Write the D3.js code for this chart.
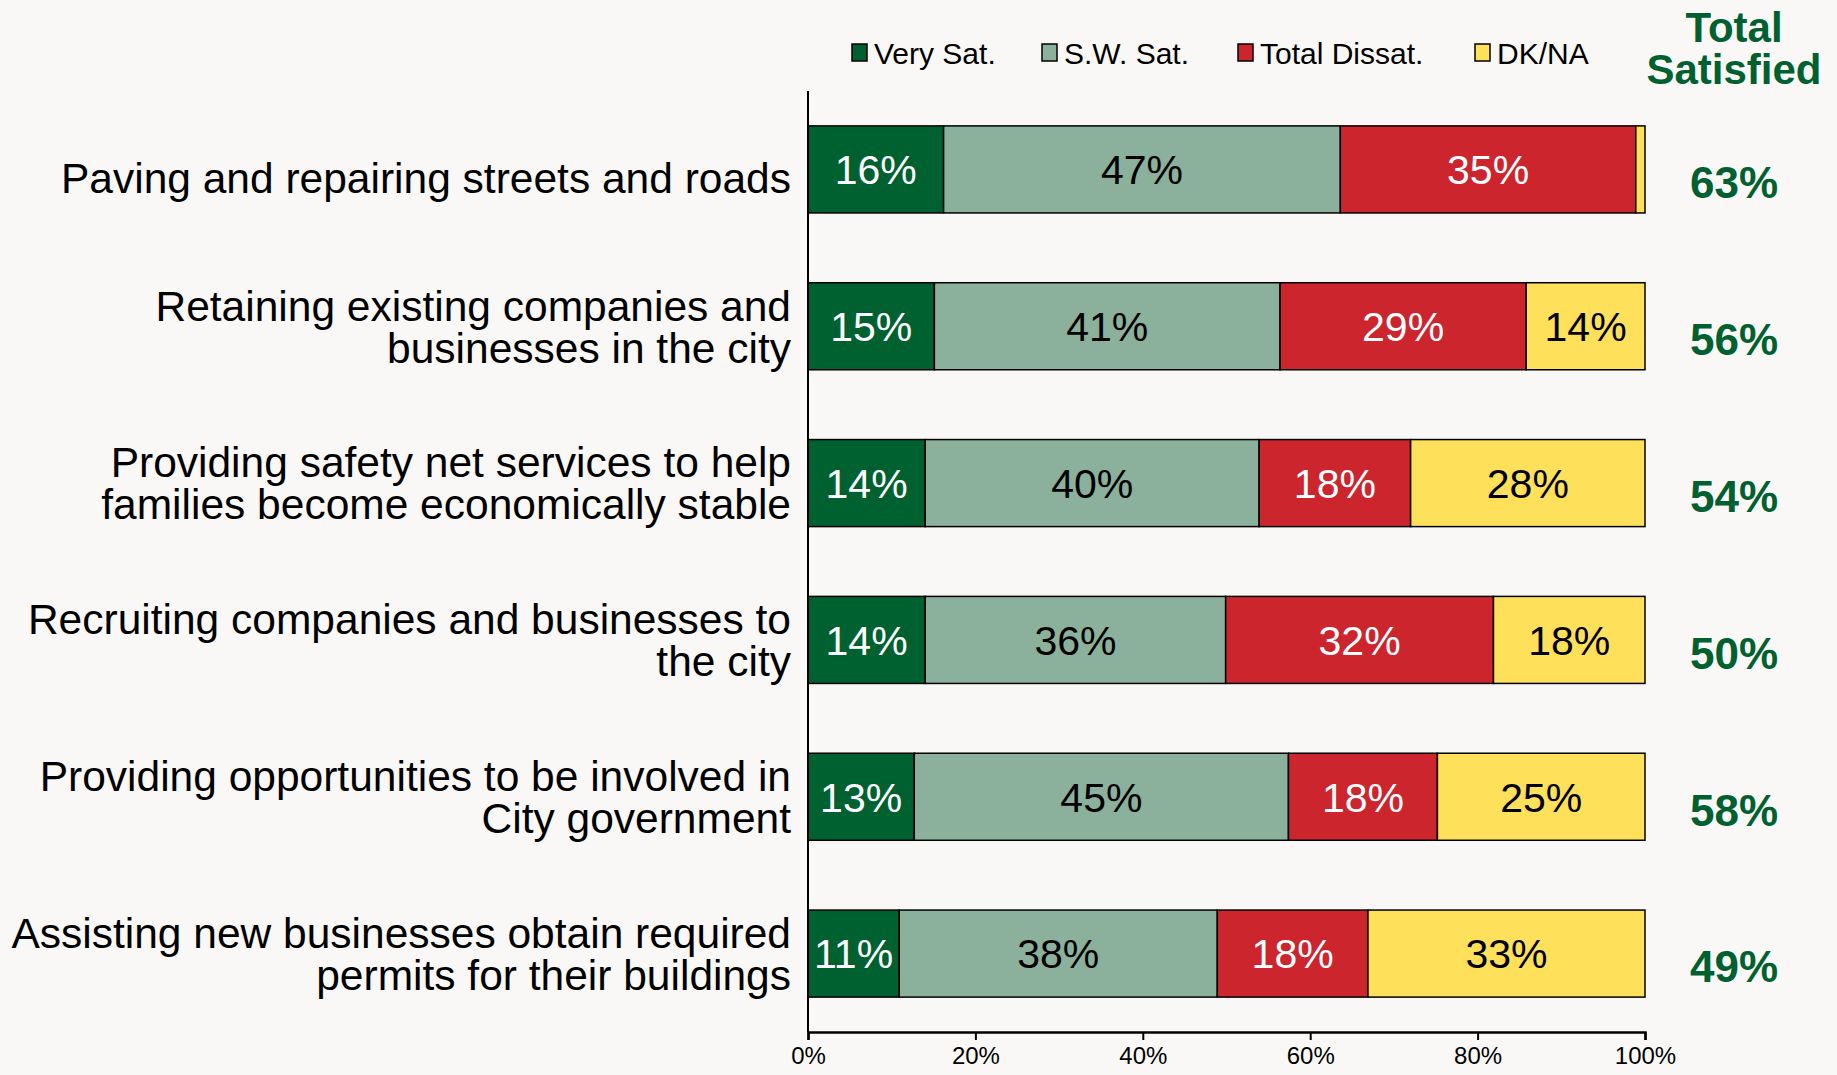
<!DOCTYPE html>
<html>
<head>
<meta charset="utf-8">
<script src="https://cdn.jsdelivr.net/npm/d3@7"></script>
<style>
  body { margin: 0; background: #f9f8f6; }
  svg { display: block; font-family: "Liberation Sans", Arial, sans-serif; }
</style>
</head>
<body>
<div id="chart"></div>
<script>
// categories, top to bottom (each entry = lines of the label)
var categories = [
  ["Paving and repairing streets and roads"],
  ["Retaining existing companies and", "businesses in the city"],
  ["Providing safety net services to help", "families become economically stable"],
  ["Recruiting companies and businesses to", "the city"],
  ["Providing opportunities to be involved in", "City government"],
  ["Assisting new businesses obtain required", "permits for their buildings"]
];
var verySat     = [16.2, 15.1, 14.0, 14.0, 12.7, 10.9];
var swSat       = [47.4, 41.3, 39.9, 35.9, 44.7, 38.0];
var totalDissat = [35.3, 29.4, 18.1, 32.0, 17.8, 18.0];
var dkna        = [ 1.1, 14.2, 28.0, 18.1, 24.8, 33.1];
var totalSatisfied = [63, 56, 54, 50, 58, 49];
var seriesNames = ["Very Sat.", "S.W. Sat.", "Total Dissat.", "DK/NA"];
var tickValues = [0, 20, 40, 60, 80, 100];

var colors = ["#006130", "#8bb09b", "#cc252e", "#fee05a"];
var textColors = ["#ffffff", "#000000", "#ffffff", "#000000"];
var green = "#00602f";

var W = 1837, H = 1075;
var svg = d3.select("#chart").append("svg").attr("width", W).attr("height", H);

var x = d3.scaleLinear().domain([0, 100]).range([808, 1645]);
var y = d3.scaleBand().domain(d3.range(categories.length))
  .range([91, 1032]).paddingInner(0.445).paddingOuter(0.2225);

var rows = categories.map(function(c, i) {
  return { idx: i, "Very Sat.": verySat[i], "S.W. Sat.": swSat[i], "Total Dissat.": totalDissat[i], "DK/NA": dkna[i] };
});
var stacked = d3.stack().keys(seriesNames)(rows);

// bars
var layers = svg.append("g").selectAll("g.layer").data(stacked).enter()
  .append("g").attr("class", "layer")
  .style("fill", function(d, k) { return colors[k]; });
layers.selectAll("rect").data(function(d) { return d; }).enter()
  .append("rect")
  .attr("x", function(d) { return x(d[0]); })
  .attr("y", function(d) { return y(d.data.idx); })
  .attr("width", function(d) { return x(d[1]) - x(d[0]); })
  .attr("height", y.bandwidth())
  .style("stroke", "#000")
  .style("stroke-width", 1.5);

// value labels
stacked.forEach(function(s, k) {
  svg.append("g").selectAll("text").data(s.filter(function(d) { return d[1] - d[0] >= 5; })).enter()
    .append("text")
    .attr("x", function(d) { return (x(d[0]) + x(d[1])) / 2; })
    .attr("y", function(d) { return y(d.data.idx) + y.bandwidth() / 2; })
    .attr("dy", "0.36em")
    .attr("text-anchor", "middle")
    .style("font-size", "41px")
    .style("fill", textColors[k])
    .text(function(d) { return Math.round(d[1] - d[0]) + "%"; });
});

// category labels
var lineH = 42;
categories.forEach(function(lines, i) {
  var cy = y(i) + y.bandwidth() / 2;
  if (lines.length == 1) cy += 8;
  var t = svg.append("text")
    .attr("text-anchor", "end")
    .style("font-size", "42.5px")
    .style("fill", "#000");
  lines.forEach(function(l, j) {
    t.append("tspan")
      .attr("x", 791)
      .attr("y", cy + (j - (lines.length - 1) / 2) * lineH)
      .attr("dy", "0.36em")
      .text(l);
  });
});

// total satisfied column
svg.append("g").selectAll("text").data(totalSatisfied).enter()
  .append("text")
  .attr("x", 1734)
  .attr("y", function(d, i) { return y(i) + y.bandwidth() / 2 + 13; })
  .attr("dy", "0.36em")
  .attr("text-anchor", "middle")
  .style("font-size", "44px")
  .style("font-weight", "bold")
  .style("fill", green)
  .text(function(d) { return d + "%"; });

var head = svg.append("text").attr("text-anchor", "middle")
  .style("font-size", "42px").style("font-weight", "bold").style("fill", green);
head.append("tspan").attr("x", 1734).attr("y", 42).text("Total");
head.append("tspan").attr("x", 1734).attr("y", 84).text("Satisfied");

// axes
svg.append("line").attr("x1", x(0)).attr("x2", x(0)).attr("y1", 91).attr("y2", 1032)
  .style("stroke", "#000").style("stroke-width", 2);
var xAxis = svg.append("g").attr("transform", "translate(0,1032)")
  .call(d3.axisBottom(x).tickValues(tickValues).tickSize(8).tickPadding(7)
    .tickFormat(function(d) { return d + "%"; }));
xAxis.select(".domain").style("stroke-width", 2.5);
xAxis.selectAll(".tick line").style("stroke-width", 2);
xAxis.selectAll("text").style("font-size", "24px").style("font-family", "Liberation Sans, Arial, sans-serif");

// legend
var legX = [852, 1042, 1238, 1475];
var leg = svg.append("g").selectAll("g").data(seriesNames).enter()
  .append("g").attr("transform", function(d, i) { return "translate(" + legX[i] + ",44)"; });
leg.append("rect").attr("width", 15).attr("height", 17)
  .style("fill", function(d, i) { return colors[i]; })
  .style("stroke", "#000").style("stroke-width", 1.5);
leg.append("text").attr("x", 22).attr("y", 20)
  .style("font-size", "30px").style("fill", "#000")
  .text(function(d) { return d; });
</script>
</body>
</html>
